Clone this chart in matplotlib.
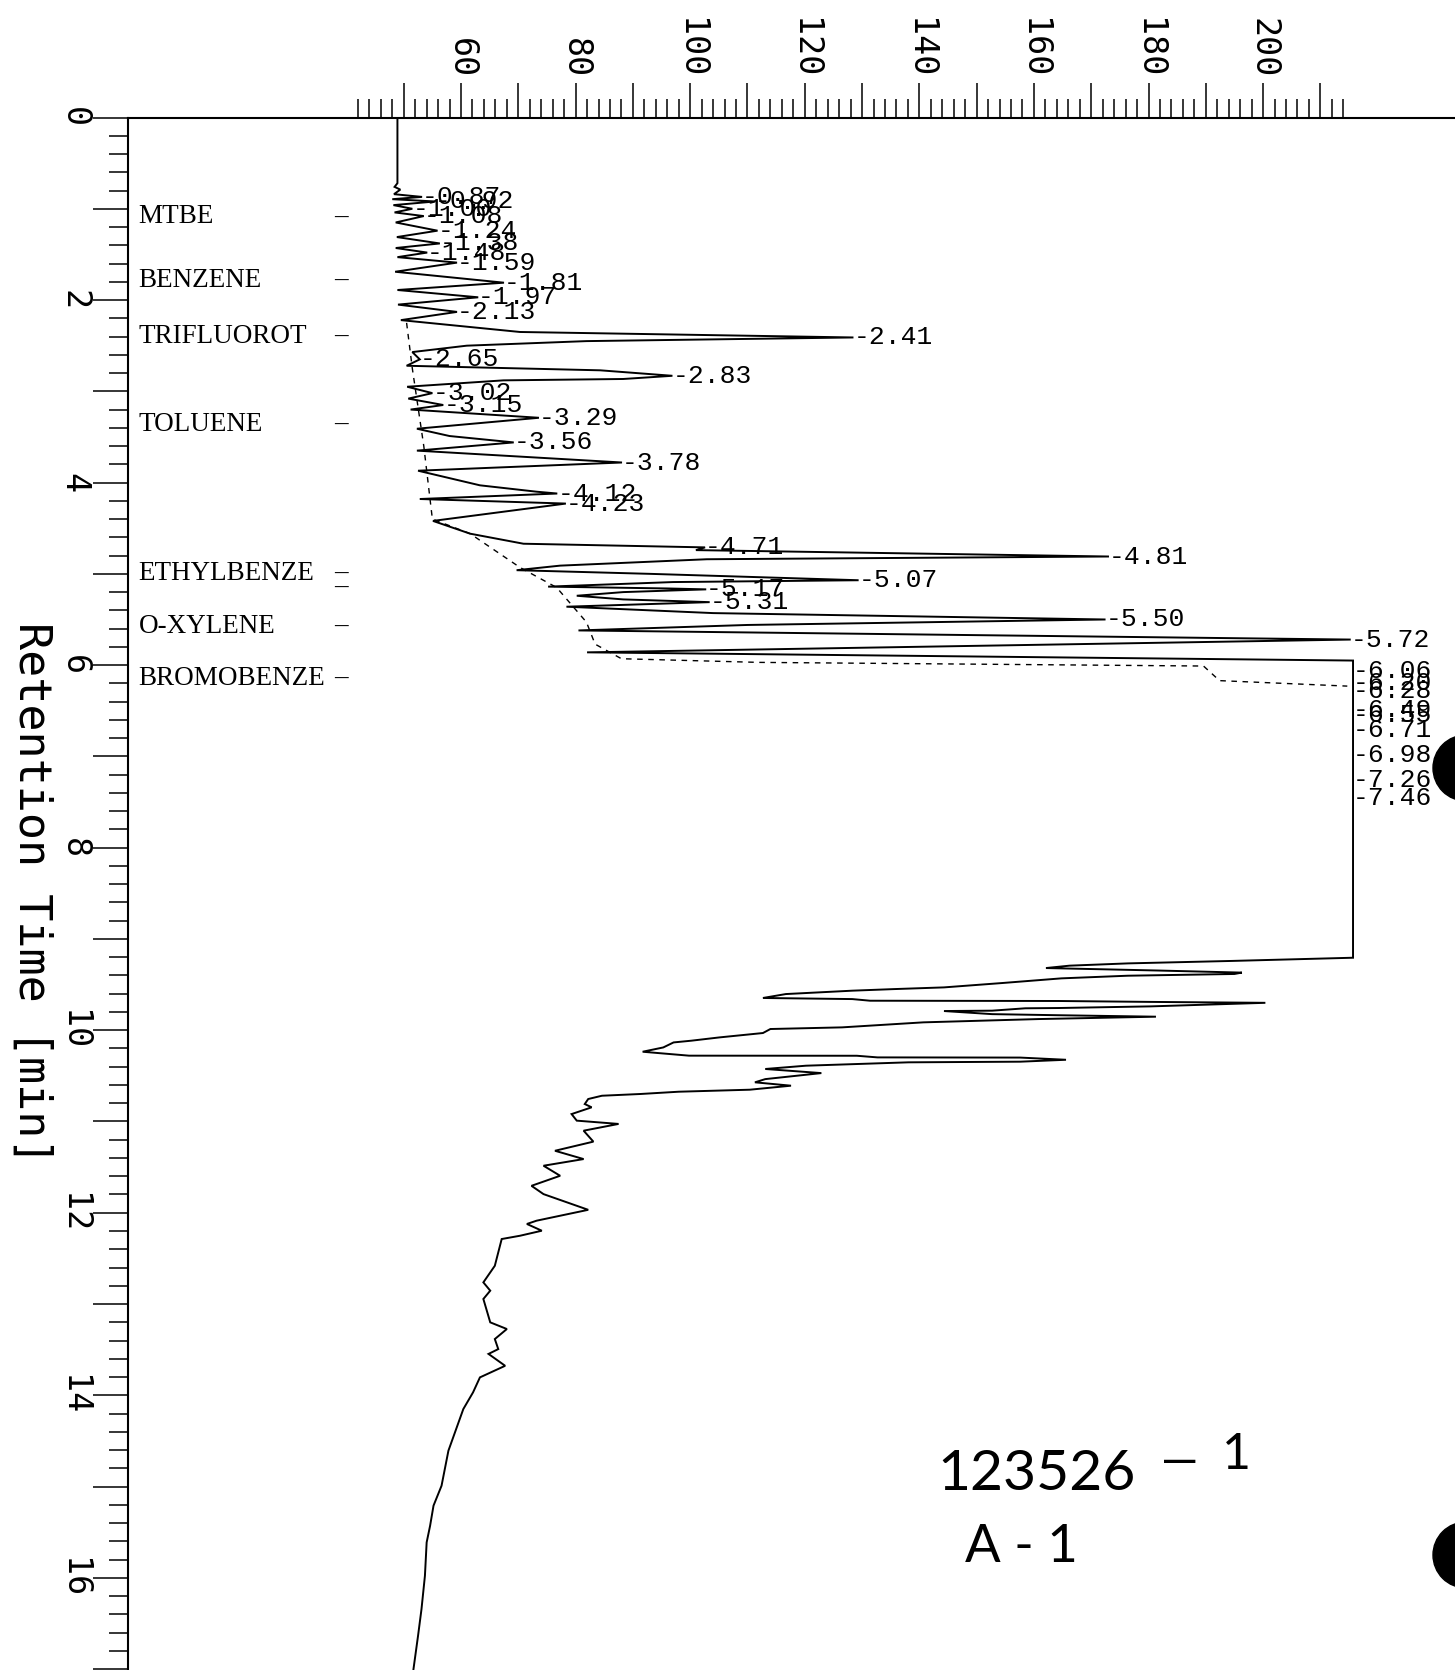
import numpy as np
import matplotlib
matplotlib.use('Agg')
import matplotlib.pyplot as plt
from matplotlib.ticker import FixedLocator, FuncFormatter
from matplotlib.patches import Ellipse

# ---------------------------------------------------------------------------
# chromatogram data: retention time [min] vs detector signal
# ---------------------------------------------------------------------------
peak_rt = [0.87, 0.92, 1.00, 1.08, 1.24, 1.38, 1.48, 1.59, 1.81, 1.97, 2.13,
           2.41, 2.65, 2.83, 3.02, 3.15, 3.29, 3.56, 3.78, 4.12, 4.23, 4.71,
           4.81, 5.07, 5.17, 5.31, 5.50, 5.72, 6.06, 6.20, 6.28, 6.49, 6.55,
           6.71, 6.98, 7.26, 7.46]
peak_top = [53.2, 55.5, 51.5, 53.5, 55.9, 56.3, 54.1, 59.3, 67.5, 63.0, 59.3,
            128.5, 52.8, 96.9, 55.0, 56.9, 73.6, 69.2, 88.1, 76.8, 78.3, 102.6,
            173.1, 129.4, 102.8, 103.4, 172.5, 215.3, 215.7, 215.7, 215.7,
            215.7, 215.7, 215.7, 215.7, 215.7, 215.7]

# valleys and shoulders between the labelled peaks
base_t = [0.00, 0.72, 0.76, 0.79, 0.84, 0.895, 0.96, 1.04, 1.15, 1.31, 1.43,
          1.53, 1.69, 1.89, 2.05, 2.22, 2.35, 2.45, 2.50, 2.57, 2.72, 2.77,
          2.865, 2.88, 2.95, 3.08, 3.20, 3.41, 3.49, 3.65, 3.87, 4.03, 4.10,
          4.18, 4.42, 4.56, 4.67, 4.74, 4.84, 4.91, 4.96, 5.00, 5.09, 5.14,
          5.16, 5.20, 5.24, 5.28, 5.34, 5.36, 5.43, 5.56, 5.62, 5.86, 5.95]
base_v = [48.9, 48.9, 48.4, 49.4, 48.3, 48.0, 48.2, 48.4, 48.6, 48.8, 48.6,
          48.9, 48.5, 48.9, 49.0, 49.5, 70.3, 81.9, 61.0, 51.5, 50.5, 84.3,
          88.3, 67.4, 50.6, 50.8, 51.2, 52.3, 58.0, 52.3, 52.5, 63.3, 73.2,
          52.8, 55.1, 61.6, 70.9, 101.0, 102.9, 77.3, 69.7, 93.0, 97.0, 75.2,
          96.0, 88.3, 80.2, 88.3, 88.3, 78.4, 104.0, 110.0, 80.5, 82.0, 215.7]

# end of the overloaded band and the noisy tail
tail_t = [9.206, 9.241, 9.268, 9.293, 9.319, 9.346, 9.369, 9.384, 9.403, 9.432,
          9.483, 9.531, 9.550, 9.567, 9.604, 9.647, 9.659, 9.677, 9.68, 9.69,
          9.70, 9.739, 9.757, 9.76, 9.786, 9.79, 9.824, 9.836, 9.852, 9.878,
          9.914, 9.969, 9.987, 10.031, 10.079, 10.115, 10.134, 10.189, 10.236,
          10.279, 10.28, 10.298, 10.30, 10.324, 10.345, 10.352, 10.389, 10.425,
          10.470, 10.536, 10.571, 10.608, 10.652, 10.674, 10.699, 10.718,
          10.754, 10.809, 10.845, 10.919, 10.991, 11.027, 11.101, 11.221,
          11.321, 11.412, 11.485, 11.595, 11.705, 11.796, 11.968, 12.087,
          12.123, 12.197, 12.252, 12.288, 12.434, 12.581, 12.763, 12.854,
          12.945, 13.201, 13.274, 13.384, 13.494, 13.547, 13.677, 13.804,
          13.968, 14.151, 14.607, 14.991, 15.209, 15.430, 15.612, 15.977,
          16.343, 16.634, 17.0]
tail_v = [215.7, 194.6, 176.4, 166.2, 162.1, 181.6, 196.3, 195.0, 176.4, 164.8,
          154.5, 144.3, 135.4, 128.3, 116.7, 112.7, 128.3, 131.4, 164.3, 180.4,
          200.4, 180.4, 164.3, 158.5, 152.7, 144.3, 152.7, 164.3, 181.3, 160.8,
          140.7, 126.5, 114.0, 112.7, 105.1, 100.2, 97.1, 95.3, 91.7,
          99.8, 129.1, 132.7, 157.6, 165.6, 157.6, 138.1, 120.2, 113.1,
          122.9, 113.1, 111.3, 117.6, 110.4, 98.0, 91.3, 84.6,
          82.2, 81.6, 82.8, 79.3, 80.2, 87.5, 81.4, 83.1,
          76.4, 81.4, 74.4, 77.3, 72.3, 74.4, 82.2, 73.2,
          71.5, 74.1, 70.3, 67.1, 66.5, 65.9, 63.9, 65.1,
          63.9, 65.1, 68.0, 65.9, 66.5, 64.8, 67.7, 63.3,
          62.1, 60.4, 57.8, 56.6, 55.2, 54.6, 54.0, 53.7,
          53.1, 52.5, 51.7]

# integration baseline (dashed)
bl_t = [2.25, 2.75, 3.60, 4.40, 4.56, 4.93, 5.15, 5.53, 5.77, 5.93, 5.97,
        6.01, 6.17, 6.23]
bl_v = [50.5, 51.5, 53.5, 55.0, 61.6, 70.3, 76.7, 81.9, 83.4, 88.0, 112.0,
        189.6, 192.4, 214.7]

# named compound windows
compounds = ['MTBE', 'BENZENE', 'TRIFLUOROT', 'TOLUENE', 'ETHYLBENZE',
             'O-XYLENE', 'BROMOBENZE']
compound_rt = [1.09, 1.79, 2.40, 3.36, 5.00, 5.58, 6.15]
unnamed_rt = [5.15]

W, H = 1455, 1670
plt.rcParams['font.family'] = ['DejaVu Sans Mono', 'DejaVu Sans']

fig = plt.figure(figsize=(W / 100, H / 100), dpi=100)
ax = fig.add_axes([128 / W, 0, 1 - 128 / W, 1 - 117.5 / H])

t = np.concatenate([base_t, peak_rt, tail_t])
v = np.concatenate([base_v, peak_top, tail_v])
order = np.argsort(t, kind='stable')
ax.plot(v[order], t[order], color='black', lw=1.4, solid_joinstyle='miter')
ax.plot(bl_v, bl_t, color='black', lw=1.0, ls=(0, (4, 4)))

ax.set_xlim(1.87, 233.5)
ax.set_ylim(17.01, 0)

# axes styling: signal scale on top, time scale on the left
ax.xaxis.tick_top()
ax.xaxis.set_major_locator(FixedLocator(np.arange(50, 211, 10)))
ax.xaxis.set_minor_locator(FixedLocator(np.arange(42, 215, 2)))
ax.xaxis.set_major_formatter(FuncFormatter(
    lambda x, p: f'{x:.0f}' if (round(x) % 20 == 0 and 60 <= x <= 200) else ''))
ax.yaxis.set_major_locator(FixedLocator(np.arange(0, 18, 1)))
ax.yaxis.set_minor_locator(FixedLocator(np.arange(0, 17.01, 0.2)))
ax.yaxis.set_major_formatter(FuncFormatter(
    lambda y, p: f'{y:.0f}' if round(y) % 2 == 0 else ''))

ax.tick_params(axis='x', which='major', length=25, width=1.1, pad=3,
               labelsize=24, labelrotation=270, top=True, bottom=False)
ax.tick_params(axis='x', which='minor', length=14, width=1.1, top=True,
               bottom=False)
ax.tick_params(axis='y', which='major', length=25, width=1.1, pad=2,
               labelsize=24, labelrotation=270)
ax.tick_params(axis='y', which='minor', length=14, width=1.1)
for lab in ax.get_yticklabels():
    lab.set_verticalalignment('center')

for side in ('right', 'bottom'):
    ax.spines[side].set_visible(False)
for side in ('top', 'left'):
    ax.spines[side].set_linewidth(1.5)

ax.set_ylabel('Retention Time [min]', rotation=270, fontsize=32.5,
              va='center', ha='center')
ax.yaxis.set_label_coords(-0.0723, 0.5)

# compound names with their window marks
for name, rt in zip(compounds, compound_rt):
    ax.text(3.7, rt, name, family='Liberation Serif', fontsize=19.5,
            va='center', ha='left')
    ax.text(39.05, rt, '–', family='Liberation Serif', fontsize=19.5,
            va='center', ha='center')
for rt in unnamed_rt:
    ax.text(39.05, rt, '–', family='Liberation Serif', fontsize=19.5,
            va='center', ha='center')

# retention time labels at each peak apex
for rt, top in zip(peak_rt, peak_top):
    ax.text(top, rt, f'-{rt:.2f}', family='Liberation Mono', fontsize=19,
            va='center', ha='left')

# sample notes written on the printout
hand = dict(family='Lato', color='black')
fig.text(937 / W, 1 - 1475 / H, '123526', fontsize=41, va='center',
         ha='left', **hand)
fig.text(1180 / W, 1 - 1462 / H, '—', fontsize=34, va='center',
         ha='center', **hand)
fig.text(1236 / W, 1 - 1455 / H, '1', fontsize=36, va='center',
         ha='center', **hand)
fig.text(965 / W, 1 - 1548 / H, 'A - 1', fontsize=38, va='center',
         ha='left', **hand)

# binder holes along the right edge
for cy in (768, 1555):
    fig.add_artist(Ellipse((1466 / W, 1 - cy / H), 66 / W, 66 / H,
                           transform=fig.transFigure, color='black'))

fig.savefig('out.png', dpi=100)
